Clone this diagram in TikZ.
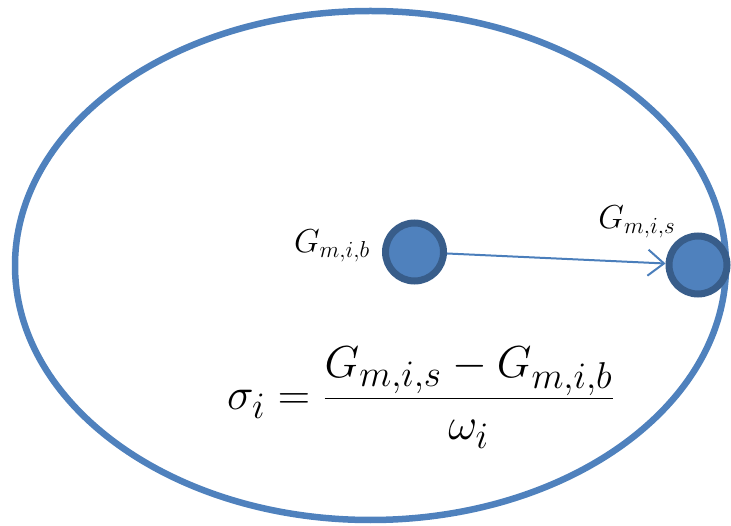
\documentclass[tikz,border=0pt]{standalone}
\usetikzlibrary{arrows.meta}
\definecolor{ofblue}{HTML}{4F81BD}
\definecolor{ofdark}{HTML}{385D8A}
\definecolor{arrblue}{HTML}{4A7EBB}
\tikzset{
  dot/.style={circle, draw=ofdark, fill=ofblue, line width=7pt, minimum size=58pt, inner sep=0pt},
  lbl/.style={font=\huge, scale=1.6, inner sep=0pt},
  link/.style={draw=arrblue, line width=2pt, -{Straight Barb[length=16pt, width=26pt, line width=2pt]}}
}
\begin{document}
\begin{tikzpicture}[x=1pt,y=-1pt]
\useasboundingbox (0,0) rectangle (731,526);
\draw[ofblue, line width=6.5pt] (370.5,265.5) ellipse [x radius=355.5, y radius=254.5];
\node[dot] (b) at (414.5,252) {};
\node[dot] (s) at (698,265) {};
\draw[link] (b) -- (s);
\node[lbl] (lb) at (332,246) {$G_{m,i,b}$};
\node[lbl] (ls) at (637,222) {$G_{m,i,s}$};
\node[font=\Huge, scale=1.8, inner sep=0pt] (f) at (421,398)
  {$\displaystyle\sigma_i = \frac{G_{m,i,s} - G_{m,i,b}}{\omega_i}$};
\end{tikzpicture}
\end{document}
